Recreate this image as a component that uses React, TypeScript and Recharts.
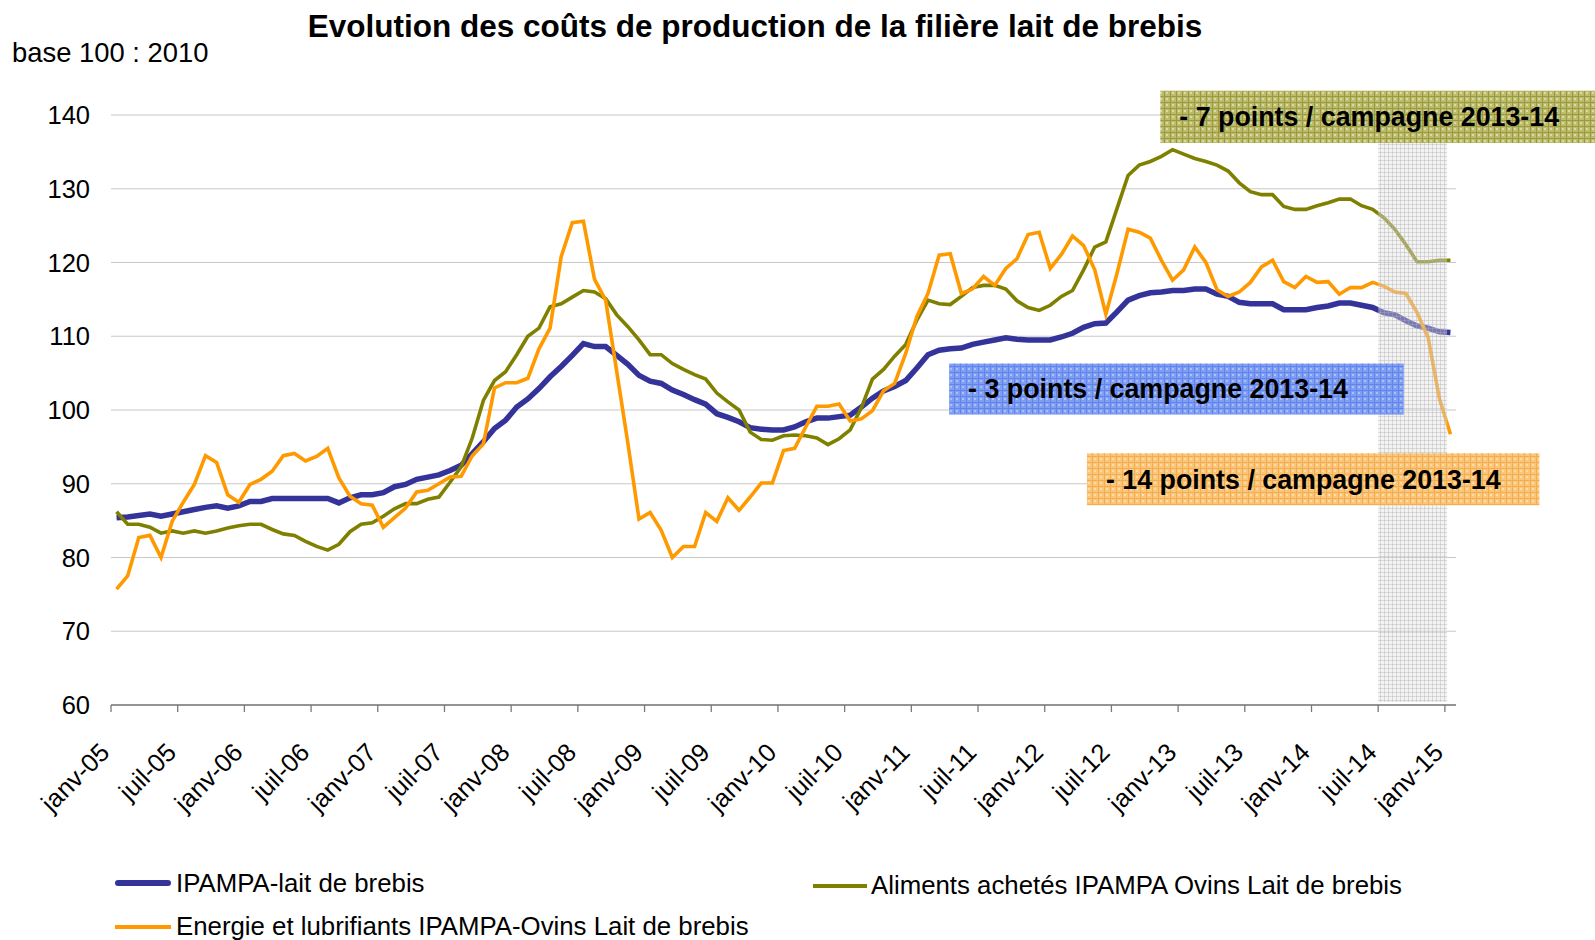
import React from 'react';
import { LineChart, Line, XAxis, YAxis, CartesianGrid, ReferenceArea } from 'recharts';

const FONT = '"Liberation Sans", Arial, Helvetica, sans-serif';

const MONTH_NAMES = ['janv', 'févr', 'mars', 'avr', 'mai', 'juin', 'juil', 'août', 'sept', 'oct', 'nov', 'déc'];
const YEARS = ['05', '06', '07', '08', '09', '10', '11', '12', '13', '14', '15'];
const categories: string[] = [];
YEARS.forEach((y) => MONTH_NAMES.forEach((m) => categories.push(`${m}-${y}`)));
categories.length = 121; // janv-05 .. janv-15

const tickLabels = [
  'janv-05', 'juil-05', 'janv-06', 'juil-06', 'janv-07', 'juil-07', 'janv-08', 'juil-08',
  'janv-09', 'juil-09', 'janv-10', 'juil-10', 'janv-11', 'juil-11', 'janv-12', 'juil-12',
  'janv-13', 'juil-13', 'janv-14', 'juil-14', 'janv-15',
];

const yTicks = [60, 70, 80, 90, 100, 110, 120, 130, 140];

// IPAMPA-lait de brebis
const ipampa = [
  85.4, 85.5, 85.7, 85.9, 85.6, 85.9, 86.2, 86.5, 86.8, 87.0, 86.7, 87.0,
  87.6, 87.6, 88.0, 88.0, 88.0, 88.0, 88.0, 88.0, 87.4, 88.1, 88.5, 88.5,
  88.8, 89.6, 89.9, 90.6, 90.9, 91.2, 91.8, 92.5, 94.1, 95.7, 97.5, 98.6,
  100.4, 101.5, 102.9, 104.5, 105.9, 107.4, 109.0, 108.6, 108.6, 107.4, 106.2, 104.7,
  103.9, 103.6, 102.7, 102.1, 101.4, 100.8, 99.5, 99.0, 98.4, 97.6, 97.4, 97.3,
  97.3, 97.7, 98.4, 98.9, 98.9, 99.1, 99.3, 100.4, 101.6, 102.6, 103.2, 104.0,
  105.7, 107.5, 108.1, 108.3, 108.4, 108.9, 109.2, 109.5, 109.8, 109.6, 109.5, 109.5,
  109.5, 109.9, 110.4, 111.2, 111.7, 111.8, 113.3, 114.9, 115.5, 115.9, 116.0, 116.2,
  116.2, 116.4, 116.4, 115.7, 115.4, 114.6, 114.4, 114.4, 114.4, 113.6, 113.6, 113.6,
  113.9, 114.1, 114.5, 114.5, 114.2, 113.9, 113.2, 112.9, 112.1, 111.4, 111.1, 110.6,
  110.5,
];

// Aliments achetés IPAMPA Ovins Lait de brebis
const aliments = [
  86.2, 84.5, 84.5, 84.1, 83.3, 83.6, 83.3, 83.6, 83.3, 83.6, 84.0, 84.3,
  84.5, 84.5, 83.8, 83.2, 83.0, 82.2, 81.5, 81.0, 81.8, 83.5, 84.5, 84.7,
  85.6, 86.6, 87.3, 87.3, 87.9, 88.2, 90.2, 92.3, 96.2, 101.3, 104.0, 105.2,
  107.5, 110.0, 111.1, 114.0, 114.4, 115.3, 116.2, 116.0, 115.1, 112.9, 111.3, 109.5,
  107.5, 107.5, 106.3, 105.5, 104.8, 104.2, 102.3, 101.1, 100.0, 97.0, 96.0, 95.9,
  96.5, 96.6, 96.5, 96.2, 95.3, 96.1, 97.3, 100.3, 104.2, 105.5, 107.3, 108.9,
  112.2, 114.9, 114.4, 114.3, 115.4, 116.6, 116.9, 116.9, 116.4, 114.8, 113.9, 113.5,
  114.2, 115.4, 116.2, 119.0, 122.1, 122.8, 127.3, 131.8, 133.2, 133.7, 134.4, 135.3,
  134.7, 134.1, 133.7, 133.2, 132.4, 130.8, 129.6, 129.2, 129.2, 127.6, 127.2, 127.2,
  127.7, 128.1, 128.6, 128.6, 127.7, 127.2, 126.1, 124.5, 122.4, 120.1, 120.1, 120.3,
  120.3,
];

// Energie et lubrifiants IPAMPA-Ovins Lait de brebis
const energie = [
  75.7, 77.5, 82.7, 83.0, 80.0, 84.9, 87.5, 89.9, 93.8, 92.9, 88.5, 87.5,
  89.9, 90.6, 91.7, 93.8, 94.1, 93.1, 93.7, 94.8, 90.8, 88.3, 87.3, 87.1,
  84.1, 85.4, 86.7, 88.9, 89.1, 90.0, 90.9, 91.0, 93.8, 95.4, 103.0, 103.7,
  103.7, 104.3, 108.3, 111.1, 120.8, 125.4, 125.6, 117.7, 114.9, 105.2, 95.5, 85.2,
  86.1, 83.7, 80.0, 81.5, 81.5, 86.1, 84.9, 88.1, 86.4, 88.2, 90.1, 90.1,
  94.5, 94.8, 97.7, 100.5, 100.5, 100.8, 98.5, 98.8, 99.9, 102.6, 103.6, 107.7,
  112.7, 115.8, 121.0, 121.2, 115.8, 116.4, 118.1, 116.9, 119.2, 120.5, 123.8, 124.1,
  119.2, 121.1, 123.6, 122.3, 119.0, 113.0, 118.5, 124.5, 124.1, 123.3, 120.3, 117.6,
  119.0, 122.1, 120.0, 116.3, 115.4, 116.0, 117.3, 119.4, 120.3, 117.4, 116.6, 118.1,
  117.3, 117.4, 115.7, 116.6, 116.6, 117.3, 116.8, 116.0, 115.8, 113.2, 109.8, 101.6,
  96.7,
];

const data = categories.map((c, i) => ({
  i,
  mois: c,
  ipampa: ipampa[i],
  aliments: aliments[i],
  energie: energie[i],
}));

const xTicks = tickLabels.map((_, k) => k * 6 - 0.5);

const XTick = (props: any) => {
  const { x, y, payload } = props;
  const k = Math.round((payload.value + 0.5) / 6);
  return (
    <text
      x={x}
      y={y}
      transform={`rotate(-45 ${x} ${y})`}
      textAnchor="end"
      fontSize={25.5}
      fontFamily={FONT}
      fill="#000"
    >
      {tickLabels[k]}
    </text>
  );
};

const labelStyle = {
  position: 'insideLeft' as const,
  offset: 19,
  fill: '#000',
  fontSize: 26.8,
  fontWeight: 700,
  fontFamily: FONT,
};

const legendText = {
  position: 'absolute' as const,
  fontSize: 25.8,
  lineHeight: '30px',
  whiteSpace: 'nowrap' as const,
  color: '#000',
};

export default function App() {
  return (
    <div
      style={{
        position: 'absolute',
        left: 0,
        top: 0,
        width: 1595,
        height: 940,
        background: '#fff',
        fontFamily: FONT,
        overflow: 'hidden',
      }}
    >
      <div
        style={{
          position: 'absolute',
          left: 0,
          width: 1510,
          top: 9,
          textAlign: 'center',
          fontSize: 31.5,
          fontWeight: 700,
          lineHeight: '34px',
          color: '#000',
          whiteSpace: 'nowrap',
        }}
      >
        Evolution des coûts de production de la filière lait de brebis
      </div>
      <div
        style={{
          position: 'absolute',
          left: 12,
          top: 38,
          fontSize: 27.4,
          lineHeight: '30px',
          color: '#000',
          whiteSpace: 'nowrap',
        }}
      >
        base 100 : 2010
      </div>

      <div style={{ position: 'absolute', left: 0, top: 0 }}>
        <LineChart
          width={1595}
          height={940}
          data={data}
          margin={{ top: 115, right: 139, bottom: 0, left: 0 }}
        >
          <defs>
            <pattern id="patOlive" width="6" height="6" patternUnits="userSpaceOnUse">
              <rect width="6" height="6" fill="#bcbc6a" />
              <rect x="2" y="2" width="2" height="2" fill="#d9d9a6" />
              <path d="M0 0.5H6M0.5 0V6" stroke="#9a9a44" strokeWidth="1" />
            </pattern>
            <pattern id="patBlue" width="6" height="6" patternUnits="userSpaceOnUse">
              <rect width="6" height="6" fill="#7f9ff3" />
              <rect x="2" y="2" width="2" height="2" fill="#a9bff8" />
              <path d="M0 0.5H6M0.5 0V6" stroke="#6483ec" strokeWidth="1" />
            </pattern>
            <pattern id="patOrange" width="6" height="6" patternUnits="userSpaceOnUse">
              <rect width="6" height="6" fill="#fbc67a" />
              <rect x="2" y="2" width="2" height="2" fill="#fddca8" />
              <path d="M0 0.5H6M0.5 0V6" stroke="#f3ae52" strokeWidth="1" />
            </pattern>
            <pattern id="patGray" width="4" height="4" patternUnits="userSpaceOnUse">
              <rect width="4" height="4" fill="rgba(225,225,225,0.4)" />
              <path d="M0 0.5H4M0.5 0V4" stroke="rgba(175,175,175,0.4)" strokeWidth="1" />
            </pattern>
          </defs>
          <CartesianGrid vertical={false} stroke="#c8c8c8" strokeWidth={1.2} />
          <XAxis
            type="number"
            dataKey="i"
            domain={[-0.5, 120.5]}
            ticks={xTicks}
            interval={0}
            height={235}
            tickSize={7}
            tickMargin={42}
            axisLine={{ stroke: '#7a7a7a', strokeWidth: 1.5 }}
            tickLine={{ stroke: '#7a7a7a', strokeWidth: 1.3 }}
            tick={<XTick />}
            allowDataOverflow
          />
          <YAxis
            type="number"
            domain={[60, 140]}
            ticks={yTicks}
            interval={0}
            width={111}
            axisLine={false}
            tickLine={false}
            tickMargin={15}
            tick={{ fontSize: 25.5, fill: '#000', fontFamily: FONT }}
          />
          <Line
            type="linear"
            dataKey="ipampa"
            name="IPAMPA-lait de brebis"
            stroke="#333399"
            strokeWidth={5.5}
            dot={false}
            isAnimationActive={false}
          />
          <Line
            type="linear"
            dataKey="aliments"
            name="Aliments achetés IPAMPA Ovins Lait de brebis"
            stroke="#808000"
            strokeWidth={3.6}
            dot={false}
            isAnimationActive={false}
          />
          <Line
            type="linear"
            dataKey="energie"
            name="Energie et lubrifiants IPAMPA-Ovins Lait de brebis"
            stroke="#ff9900"
            strokeWidth={3.6}
            dot={false}
            isAnimationActive={false}
          />
          <ReferenceArea
            x1={113.5}
            x2={119.7}
            y1={60.4}
            y2={136.3}
            fill="url(#patGray)"
            fillOpacity={1}
            stroke="none"
            ifOverflow="visible"
            {...({ zIndex: 600 } as any)}
          />
          <ReferenceArea
            x1={93.9}
            x2={134}
            y1={136.2}
            y2={143.3}
            fill="url(#patOlive)"
            fillOpacity={1}
            stroke="none"
            ifOverflow="visible"
            label={{ ...labelStyle, value: '- 7 points / campagne 2013-14' }}
            {...({ zIndex: 610 } as any)}
          />
          <ReferenceArea
            x1={74.9}
            x2={115.8}
            y1={99.4}
            y2={106.3}
            fill="url(#patBlue)"
            fillOpacity={1}
            stroke="none"
            ifOverflow="visible"
            label={{ ...labelStyle, value: '- 3 points / campagne 2013-14' }}
            {...({ zIndex: 610 } as any)}
          />
          <ReferenceArea
            x1={87.3}
            x2={128}
            y1={87.1}
            y2={94.15}
            fill="url(#patOrange)"
            fillOpacity={1}
            stroke="none"
            ifOverflow="visible"
            label={{ ...labelStyle, value: '- 14 points / campagne 2013-14' }}
            {...({ zIndex: 610 } as any)}
          />
        </LineChart>
      </div>

      {/* Legend */}
      <div style={{ position: 'absolute', left: 115, top: 880, width: 56, height: 6, background: '#333399', borderRadius: 3 }} />
      <div style={{ ...legendText, left: 176, top: 868 }}>IPAMPA-lait de brebis</div>
      <div style={{ position: 'absolute', left: 813, top: 884, width: 54, height: 4, background: '#808000' }} />
      <div style={{ ...legendText, left: 871, top: 870 }}>Aliments achetés IPAMPA Ovins Lait de brebis</div>
      <div style={{ position: 'absolute', left: 115, top: 925, width: 56, height: 4, background: '#ff9900' }} />
      <div style={{ ...legendText, left: 176, top: 911 }}>Energie et lubrifiants IPAMPA-Ovins Lait de brebis</div>
    </div>
  );
}
